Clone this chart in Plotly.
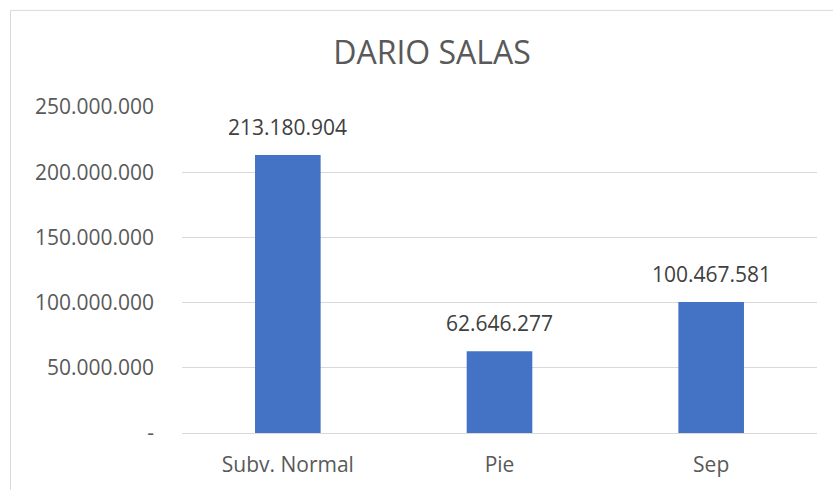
import plotly.graph_objects as go

categories = ["Subv. Normal", "Pie", "Sep"]
values = [213180904, 62646277, 100467581]
tick_values = [0, 50000000, 100000000, 150000000, 200000000, 250000000]
tick_labels = ["-", "50.000.000", "100.000.000", "150.000.000", "200.000.000", "250.000.000"]

W, H = 833, 490
FONT = "Open Sans"
ML, MR, MT, MB = 182, 16, 107, 54

fig = go.Figure(
    go.Bar(
        x=categories,
        y=values,
        marker=dict(color="#4472C4", line=dict(width=0)),
        hoverinfo="x+y",
    )
)

# value labels above each bar
for cat, val in zip(categories, values):
    fig.add_annotation(
        x=cat,
        y=val,
        text=f"{val:,}".replace(",", "."),
        showarrow=False,
        yanchor="bottom",
        yshift=12,
        font=dict(family=FONT, size=21, color="#404040"),
    )

fig.update_layout(
    width=W,
    height=H,
    plot_bgcolor="white",
    paper_bgcolor="white",
    margin=dict(l=ML, r=MR, t=MT, b=MB),
    bargap=0.69,
    showlegend=False,
    title=dict(
        text="DARIO SALAS",
        x=432 / W,
        xanchor="center",
        y=1 - 53 / H,
        yanchor="middle",
        xref="container",
        yref="container",
        font=dict(family=FONT, size=32, color="#595959"),
    ),
    font=dict(family=FONT, color="#595959"),
)

fig.update_xaxes(
    showgrid=False,
    showline=True,
    linecolor="#D9D9D9",
    linewidth=1,
    ticks="outside",
    ticklen=13,
    tickcolor="rgba(0,0,0,0)",
    tickfont=dict(family=FONT, size=21, color="#595959"),
)

fig.update_yaxes(
    range=[0, 250000000],
    tickvals=tick_values,
    ticktext=tick_labels,
    showgrid=True,
    gridcolor="#D9D9D9",
    gridwidth=1,
    zeroline=False,
    showline=False,
    ticklabelstandoff=27,
    tickfont=dict(family=FONT, size=21, color="#595959"),
)

# chart frame: top and left edges visible
pw, ph = W - ML - MR, H - MT - MB
fig.add_shape(
    type="rect",
    xref="paper",
    yref="paper",
    x0=(10.5 - ML) / pw,
    x1=(W + 20 - ML) / pw,
    y0=(-20 - MB) / ph,
    y1=(H - 9.5 - MB) / ph,
    line=dict(color="#D9D9D9", width=1),
    fillcolor="rgba(0,0,0,0)",
    layer="below",
)

fig.write_html("out.html")
